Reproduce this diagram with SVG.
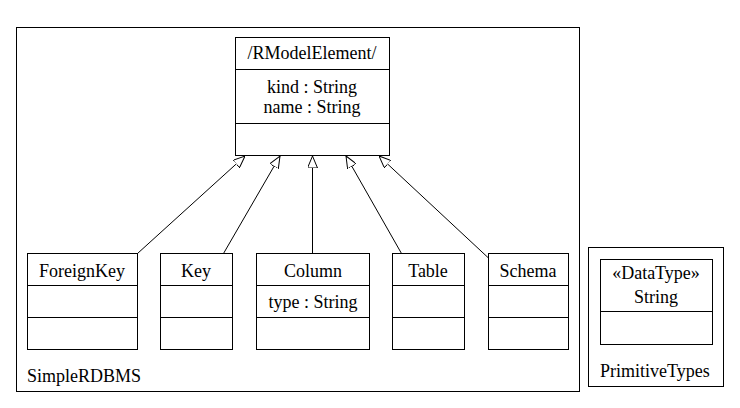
<svg xmlns="http://www.w3.org/2000/svg" width="740" height="408" viewBox="0 0 740 408">
<style>
.box{fill:#fff;stroke:#000;stroke-width:1}
.ln{stroke:#000;stroke-width:1;fill:none}
.c{text-anchor:middle}
</style>
<defs>
<marker id="gen" viewBox="0 0 12 10" refX="12" refY="5" markerWidth="12" markerHeight="10" markerUnits="userSpaceOnUse" orient="auto">
<path d="M0,0 L12,5 L0,10 Z" fill="#fff" stroke="#000" stroke-width="1"/>
</marker>
</defs>
<rect width="740" height="408" fill="#fff"/>
<g font-family="Liberation Serif" font-size="18" fill="#000">
<g id="pkg-SimpleRDBMS">
<rect class="box" x="16.5" y="27.5" width="563" height="364"/>
<text x="27" y="382">SimpleRDBMS</text>
</g>
<g id="pkg-PrimitiveTypes">
<rect class="box" x="588.5" y="247.5" width="135" height="139"/>
<text x="600" y="377">PrimitiveTypes</text>
</g>
<g id="RModelElement">
<rect class="box" x="235.5" y="37.5" width="154" height="118"/>
<line class="ln" x1="235.5" y1="69.5" x2="389.5" y2="69.5"/>
<line class="ln" x1="235.5" y1="123.5" x2="389.5" y2="123.5"/>
<text class="c" x="312" y="59">/RModelElement/</text>
<text class="c" x="312" y="93">kind : String</text>
<text class="c" x="312" y="113">name : String</text>
</g>
<g id="ForeignKey">
<rect class="box" x="27.5" y="253.5" width="110" height="96"/>
<line class="ln" x1="27.5" y1="285.5" x2="137.5" y2="285.5"/>
<line class="ln" x1="27.5" y1="317.5" x2="137.5" y2="317.5"/>
<text class="c" x="82" y="277">ForeignKey</text>
</g>
<g id="Key">
<rect class="box" x="160.5" y="253.5" width="72" height="96"/>
<line class="ln" x1="160.5" y1="285.5" x2="232.5" y2="285.5"/>
<line class="ln" x1="160.5" y1="317.5" x2="232.5" y2="317.5"/>
<text class="c" x="196" y="277">Key</text>
</g>
<g id="Column">
<rect class="box" x="256.5" y="253.5" width="113" height="96"/>
<line class="ln" x1="256.5" y1="285.5" x2="369.5" y2="285.5"/>
<line class="ln" x1="256.5" y1="317.5" x2="369.5" y2="317.5"/>
<text class="c" x="313" y="277">Column</text>
<text class="c" x="313" y="308">type : String</text>
</g>
<g id="Table">
<rect class="box" x="392.5" y="253.5" width="72" height="96"/>
<line class="ln" x1="392.5" y1="285.5" x2="464.5" y2="285.5"/>
<line class="ln" x1="392.5" y1="317.5" x2="464.5" y2="317.5"/>
<text class="c" x="428" y="277">Table</text>
</g>
<g id="Schema">
<rect class="box" x="488.5" y="253.5" width="80" height="96"/>
<line class="ln" x1="488.5" y1="285.5" x2="568.5" y2="285.5"/>
<line class="ln" x1="488.5" y1="317.5" x2="568.5" y2="317.5"/>
<text class="c" x="528" y="277">Schema</text>
</g>
<g id="String">
<rect class="box" x="600.5" y="259.5" width="112" height="85"/>
<line class="ln" x1="600.5" y1="311.5" x2="712.5" y2="311.5"/>
<text class="c" x="656" y="279">«DataType»</text>
<text class="c" x="656" y="303">String</text>
</g>
</g>
<g id="connectors">
<line class="ln" x1="137.5" y1="253.5" x2="245" y2="156" marker-end="url(#gen)"/>
<line class="ln" x1="223.5" y1="253.5" x2="280" y2="156" marker-end="url(#gen)"/>
<line class="ln" x1="312.5" y1="253.5" x2="312.5" y2="156" marker-end="url(#gen)"/>
<line class="ln" x1="401.5" y1="253.5" x2="346" y2="156" marker-end="url(#gen)"/>
<line class="ln" x1="488.5" y1="258" x2="379" y2="156" marker-end="url(#gen)"/>
</g>
</svg>
